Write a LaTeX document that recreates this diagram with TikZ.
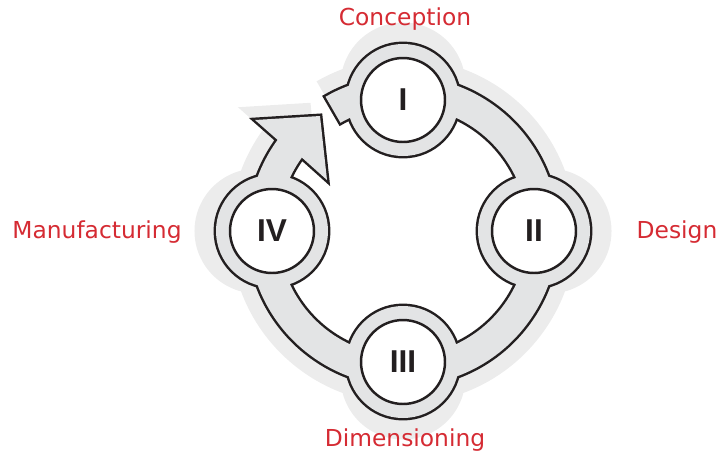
\documentclass[tikz,border=0pt]{standalone}
\usepackage{fontspec}
\setmainfont{DejaVu Sans}
\newfontfamily\numeralfont{Liberation Sans}
\definecolor{bandgray}{HTML}{E3E4E5}
\definecolor{shadowgray}{HTML}{ECECEC}
\definecolor{labelred}{HTML}{D52B33}
\definecolor{inkblack}{HTML}{231F20}
\tikzset{stage/.style={circle,draw=inkblack,fill=white,line width=1.4pt,
   minimum size=1.68cm,inner sep=0pt,text=inkblack,
   font=\numeralfont\fontsize{18}{20}\selectfont\bfseries},
 phase/.style={text=labelred,inner sep=0pt,font=\fontsize{13.3}{16}\selectfont},
 }
% band with arrow head, plus the four rings round the stages
\newcommand{\cyclepath}{%
  (-216:125) -- (-76,51) -- (-83,115) -- (-148,111) -- (-216:155)
  arc[start angle=-216,end angle=120,radius=155] -- (120:125)
  arc[start angle=120,end angle=-216,radius=125] -- cycle
  (90:131) circle[radius=56] (0:131) circle[radius=56]
  (-90:131) circle[radius=56] (180:131) circle[radius=56]}

\begin{document}
\begin{tikzpicture}[x=0.02cm,y=0.02cm]
        \useasboundingbox (-403,-223) rectangle (316,231);
        \fill[shadowgray,scale=1.115] \cyclepath;
        \draw[inkblack,line width=2.8pt,fill=bandgray] \cyclepath;
        \fill[bandgray] \cyclepath;
        \node[stage] (s1) at (90:131) {I};
        \node[stage] (s2) at (0:131) {II};
        \node[stage] (s3) at (-90:131) {III};
        \node[stage] (s4) at (180:131) {IV};
        \node[phase] (conception) at (2,212) {Conception};
        \node[phase] (design) at (274,-1) {Design};
        \node[phase] (dimensioning) at (2,-209) {Dimensioning};
        \node[phase] (manufacturing) at (-306,-1) {Manufacturing};
\end{tikzpicture}
\end{document}
